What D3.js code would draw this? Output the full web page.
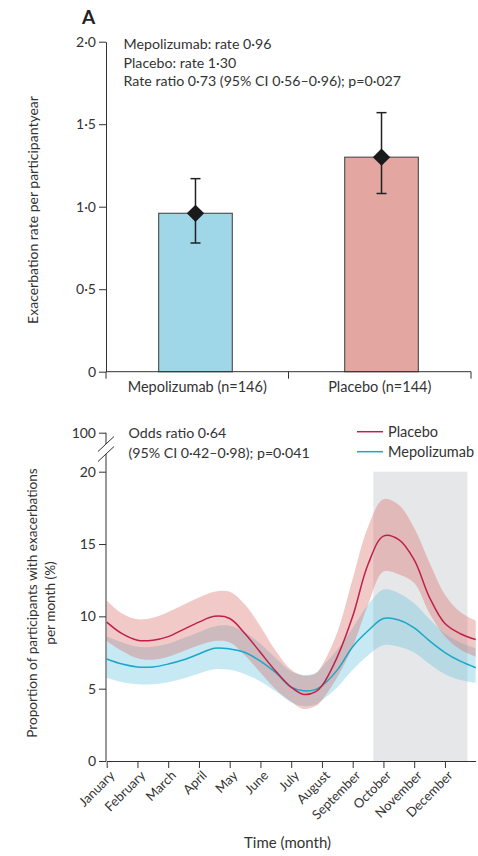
<!DOCTYPE html>
<html><head><meta charset="utf-8">
<script src="https://cdn.jsdelivr.net/npm/d3@7"></script>
<style>
body{margin:0;background:#fff;}
svg{display:block;font-family:"Lato",sans-serif;}
</style></head><body><svg id="c" width="478" height="856"></svg>
<script>
// ---------- Panel A data ----------
const groups = ["Mepolizumab (n=146)", "Placebo (n=144)"];
const rates = [0.96, 1.30];
const rateLow = [0.78, 1.08];
const rateHigh = [1.17, 1.57];
const rateTicks = [0, 0.5, 1, 1.5, 2];
const barColors = ["#9fd6e8", "#e3a6a1"];
const annotA = ["Mepolizumab: rate 0·96", "Placebo: rate 1·30", "Rate ratio 0·73 (95% CI 0·56–0·96); p=0·027"];

// ---------- Panel B data ----------
const months = ["January","February","March","April","May","June","July","August","September","October","November","December"];
const monthX      = [0,0.5,1,1.5,2,2.5,3,3.5,4,4.5,5,5.5,6,6.4,6.8,7,7.5,8,8.5,9,9.5,10,10.5,11,11.5,12];
const placebo     = [9.6,8.8,8.35,8.35,8.6,9.1,9.6,10.0,9.85,8.8,7.5,6.2,5.1,4.6,4.8,5.2,7.2,10.0,13.6,15.55,15.3,13.9,11.3,9.5,8.8,8.4];
const placeboLow  = [8.3,7.6,7.1,7.0,7.2,7.6,8.0,8.3,8.2,7.3,6.1,4.95,4.1,3.6,3.8,4.2,5.8,7.9,10.8,13.1,12.9,12.3,10.2,8.6,7.7,7.2];
const placeboHigh = [11.1,10.2,9.8,9.9,10.3,10.8,11.3,11.7,11.7,10.8,9.3,7.6,6.3,5.9,6.05,6.6,8.9,12.6,16.2,18.1,17.7,16.1,13.7,11.5,10.3,9.7];
const mepo        = [7.05,6.7,6.5,6.5,6.7,7.0,7.4,7.8,7.75,7.5,6.9,6.1,5.1,4.85,4.95,5.2,6.3,7.9,9.0,9.85,9.75,9.2,8.3,7.5,6.9,6.45];
const mepoLow     = [5.75,5.45,5.3,5.3,5.45,5.7,6.05,6.35,6.3,6.0,5.5,4.8,4.05,3.8,3.9,4.2,5.1,6.3,7.3,8.0,7.9,7.5,6.7,6.0,5.6,5.4];
const mepoHigh    = [8.6,8.2,7.9,7.9,8.1,8.5,8.9,9.3,9.35,8.9,8.1,7.1,6.2,5.95,6.1,6.5,7.7,9.2,10.8,11.85,11.6,10.9,9.8,8.8,8.2,7.8];
const propTicks = [0, 5, 10, 15, 20, 100];
const shadeRange = [8.67, 11.73];
const shadeTop = 20.1;
const annotB = ["Odds ratio 0·64", "(95% CI 0·42–0·98); p=0·041"];
const legendItems = ["Placebo", "Mepolizumab"];
const lineColors = {Placebo: "#c0204a", Mepolizumab: "#1aa7c9"};

const svg = d3.select("#c");
const ink = "#333";
const fmt = d => d === 0 ? "0" : d3.format(".1f")(d).replace(".", "·");

// ================= Panel A =================
const yA = d3.scaleLinear().domain([0, 2]).range([371.7, 41.7]);
const xAxisBand = d3.scaleBand().domain(groups).range([106, 471]).padding(0);
const xBar = d3.scaleBand().domain(groups).range([106, 471]).paddingInner(0.604).paddingOuter(0.283);

const gA = svg.append("g");
gA.append("text").attr("x", 88.5).attr("y", 24).attr("text-anchor", "middle")
  .attr("font-size", 19).attr("font-weight", "bold").attr("fill", "#222").text("A");

gA.selectAll("rect.bar").data(groups).join("rect")
  .attr("x", d => xBar(d)).attr("width", xBar.bandwidth())
  .attr("y", (d, i) => yA(rates[i])).attr("height", (d, i) => yA(0) - yA(rates[i]))
  .attr("fill", (d, i) => barColors[i]).attr("stroke", "#555").attr("stroke-width", 1.2);

const ebG = gA.selectAll("g.eb").data(groups).join("g")
  .attr("transform", d => `translate(${xBar(d) + xBar.bandwidth() / 2},0)`);
ebG.append("line").attr("y1", (d, i) => yA(rateLow[i])).attr("y2", (d, i) => yA(rateHigh[i]))
  .attr("stroke", "#222").attr("stroke-width", 1.5);
ebG.append("line").attr("x1", -5).attr("x2", 5).attr("y1", (d, i) => yA(rateLow[i])).attr("y2", (d, i) => yA(rateLow[i]))
  .attr("stroke", "#222").attr("stroke-width", 1.5);
ebG.append("line").attr("x1", -5).attr("x2", 5).attr("y1", (d, i) => yA(rateHigh[i])).attr("y2", (d, i) => yA(rateHigh[i]))
  .attr("stroke", "#222").attr("stroke-width", 1.5);
ebG.append("path").attr("d", d3.symbol(d3.symbolSquare, 150)())
  .attr("transform", (d, i) => `translate(0,${yA(rates[i])}) rotate(45)`).attr("fill", "#1a1a1a");

gA.append("g").attr("transform", "translate(106,0)")
  .call(d3.axisLeft(yA).tickValues(rateTicks).tickFormat(fmt).tickSize(7).tickSizeOuter(0));
const xAxA = gA.append("g").attr("transform", `translate(0,${yA(0)})`);
xAxA.append("line").attr("x1", 106).attr("x2", 471).attr("stroke", ink);
xAxA.selectAll("line.tk").data([...groups.map(g => xAxisBand(g)), xAxisBand(groups[1]) + xAxisBand.bandwidth()])
  .join("line").attr("x1", d => d).attr("x2", d => d).attr("y1", 0).attr("y2", 7).attr("stroke", ink);
xAxA.selectAll("text").data(groups).join("text")
  .attr("x", d => xAxisBand(d) + xAxisBand.bandwidth() / 2).attr("y", 20)
  .attr("text-anchor", "middle").attr("font-size", 14.5).attr("fill", ink).text(d => d);

gA.selectAll("text.ann").data(annotA).join("text")
  .attr("x", 123.5).attr("y", (d, i) => 49 + i * 18.5).attr("font-size", 14.2).attr("fill", ink).text(d => d);

gA.append("text").attr("transform", `translate(38,210) rotate(-90)`).attr("text-anchor", "middle")
  .attr("font-size", 14).attr("fill", ink).text("Exacerbation rate per participantyear");

// ================= Panel B =================
const xB = d3.scaleLinear().domain([0, 12]).range([106.7, 475.7]);
const yB = d3.scaleLinear().domain([0, 20, 100]).range([761, 471.7, 432.7]);
const gB = svg.append("g");

gB.append("rect").attr("x", xB(shadeRange[0])).attr("width", xB(shadeRange[1]) - xB(shadeRange[0]))
  .attr("y", yB(shadeTop)).attr("height", yB(0) - yB(shadeTop)).attr("fill", "#e6e7e9");

const idx = d3.range(monthX.length);
const curve = d3.curveCatmullRom.alpha(0.5);
const area = (lo, hi) => d3.area().curve(curve)
  .x(i => xB(monthX[i])).y0(i => yB(lo[i])).y1(i => yB(hi[i]))(idx);
const line = vals => d3.line().curve(curve).x(i => xB(monthX[i])).y(i => yB(vals[i]))(idx);

gB.append("path").attr("d", area(mepoLow, mepoHigh)).attr("fill", "#5cc0dc").attr("fill-opacity", 0.35);
gB.append("path").attr("d", area(placeboLow, placeboHigh)).attr("fill", "#d8645e").attr("fill-opacity", 0.35);
gB.append("path").attr("d", line(mepo)).attr("fill", "none").attr("stroke", lineColors.Mepolizumab).attr("stroke-width", 1.5);
gB.append("path").attr("d", line(placebo)).attr("fill", "none").attr("stroke", lineColors.Placebo).attr("stroke-width", 1.5);

const yAxB = gB.append("g").attr("transform", "translate(106,0)")
  .call(d3.axisLeft(yB).tickValues(propTicks).tickFormat(d => d).tickSize(7));
yAxB.select(".domain").remove();
const brk1 = yB(20) - 27.7, brk2 = yB(20) - 17.7;
yAxB.append("line").attr("y1", yB(100)).attr("y2", brk1).attr("stroke", ink);
yAxB.append("line").attr("y1", brk2).attr("y2", yB(0)).attr("stroke", ink);
[brk1, brk2].forEach(b => yAxB.append("line").attr("x1", -8).attr("x2", 8).attr("y1", b + 7.5).attr("y2", b - 7.5).attr("stroke", ink));

const xAxB = gB.append("g").attr("transform", `translate(0,${yB(0)})`)
  .call(d3.axisBottom(xB).tickValues(d3.range(months.length)).tickFormat(i => months[i]).tickSize(7).tickSizeOuter(0));
xAxB.selectAll(".tick text").attr("x", 0).attr("y", 0).attr("dy", "0.35em")
  .attr("text-anchor", "end").attr("transform", "translate(5,12) rotate(-45)");

gB.append("text").attr("x", 287.5).attr("y", 848).attr("text-anchor", "middle")
  .attr("font-size", 15).attr("fill", ink).text("Time (month)");

gB.selectAll("text.ann").data(annotB).join("text")
  .attr("x", 128.5).attr("y", (d, i) => 437.5 + i * 20.5).attr("font-size", 14.2).attr("fill", ink).text(d => d);

const lg = gB.selectAll("g.lg").data(legendItems).join("g").attr("transform", (d, i) => `translate(357,${431.7 + i * 20})`);
lg.append("line").attr("x2", 26).attr("stroke", d => lineColors[d]).attr("stroke-width", 1.5);
lg.append("text").attr("x", 31).attr("dy", "0.35em").attr("font-size", 14.5).attr("fill", ink).text(d => d);

const yTitle = gB.append("text").attr("text-anchor", "middle").attr("font-size", 13.6).attr("fill", ink)
  .attr("transform", "translate(0,603) rotate(-90)");
yTitle.append("tspan").attr("x", 0).attr("y", 37).text("Proportion of participants with exacerbations");
yTitle.append("tspan").attr("x", 0).attr("y", 55).text("per month (%)");

svg.selectAll(".tick line, .domain").attr("stroke", ink);
svg.selectAll(".tick text").attr("fill", ink).attr("font-size", 14).attr("font-family", "Lato, sans-serif");
xAxB.selectAll(".tick text").attr("font-size", 13);
</script></body></html>
